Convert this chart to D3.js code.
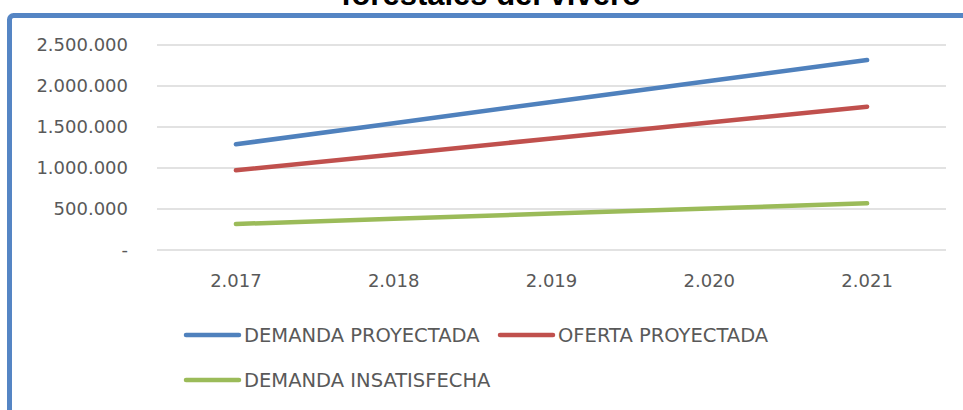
<!DOCTYPE html>
<html>
<head>
<meta charset="utf-8">
<script src="https://cdn.jsdelivr.net/npm/d3@7"></script>
<style>
  body { margin: 0; background: #fff; }
  svg { display: block; }
</style>
</head>
<body>
<div id="chart"></div>
<script>
var years = ["2.017", "2.018", "2.019", "2.020", "2.021"];
var demandaProyectada = [1289000, 1547000, 1805000, 2061000, 2317000];
var ofertaProyectada = [972000, 1166000, 1360000, 1554000, 1748000];
var demandaInsatisfecha = [317000, 381000, 445000, 507000, 569000];
var yTicks = [0, 500000, 1000000, 1500000, 2000000, 2500000];

var series = [
  { name: "DEMANDA PROYECTADA", values: demandaProyectada, color: "#4f81bd" },
  { name: "OFERTA PROYECTADA", values: ofertaProyectada, color: "#c0504d" },
  { name: "DEMANDA INSATISFECHA", values: demandaInsatisfecha, color: "#9bbb59" },
];

var width = 963,
  height = 410;
var plot = { left: 157, right: 946, top: 45, bottom: 250 };

var svg = d3
  .select("#chart")
  .append("svg")
  .attr("width", width)
  .attr("height", height);

// chart area border (only top and left edges fall inside the picture)
svg
  .append("rect")
  .attr("x", 9.5)
  .attr("y", 15.5)
  .attr("width", 1000)
  .attr("height", 500)
  .attr("rx", 4)
  .style("fill", "none")
  .style("stroke", "#5585c4")
  .style("stroke-width", 5);

// title, only the lower part of its second line is visible
svg
  .append("text")
  .attr("x", 491)
  .attr("y", 5)
  .attr("text-anchor", "middle")
  .style("font-family", "Liberation Sans, Arial, sans-serif")
  .style("font-weight", "bold")
  .style("font-size", "31px")
  .style("fill", "#000")
  .text("forestales del vivero");

var x = d3.scaleBand().domain(years).range([plot.left, plot.right]);
var y = d3.scaleLinear().domain([0, 2500000]).range([plot.bottom, plot.top]);

var locale = d3.formatLocale({
  decimal: ",",
  thousands: ".",
  grouping: [3],
  currency: ["", ""],
});
var fmt = locale.format(",d");
var tickFormat = (d) => (d === 0 ? "-" : fmt(d));

// gridlines
svg
  .append("g")
  .selectAll("line")
  .data(yTicks)
  .enter()
  .append("line")
  .attr("x1", plot.left)
  .attr("x2", plot.right)
  .attr("y1", (d) => y(d))
  .attr("y2", (d) => y(d))
  .style("stroke", "#d9d9d9")
  .style("stroke-width", 1.5);

// y axis labels
svg
  .append("g")
  .selectAll("text")
  .data(yTicks)
  .enter()
  .append("text")
  .attr("x", 128)
  .attr("y", (d) => y(d))
  .attr("dy", "0.36em")
  .attr("text-anchor", "end")
  .style("font-family", "DejaVu Sans, sans-serif")
  .style("font-size", "18px")
  .style("fill", "#595959")
  .text(tickFormat);

// x axis labels
svg
  .append("g")
  .selectAll("text")
  .data(years)
  .enter()
  .append("text")
  .attr("x", (d) => x(d) + x.bandwidth() / 2)
  .attr("y", 281)
  .attr("dy", "0.36em")
  .attr("text-anchor", "middle")
  .style("font-family", "DejaVu Sans, sans-serif")
  .style("font-size", "18px")
  .style("fill", "#595959")
  .text((d) => d);

var line = d3
  .line()
  .x((d, i) => x(years[i]) + x.bandwidth() / 2)
  .y((d) => y(d));

svg
  .append("g")
  .selectAll("path")
  .data(series)
  .enter()
  .append("path")
  .attr("d", (s) => line(s.values))
  .style("fill", "none")
  .style("stroke", (s) => s.color)
  .style("stroke-width", 4.5)
  .style("stroke-linecap", "round")
  .style("stroke-linejoin", "round");

// legend
var legendPos = [
  { x: 184, y: 335 },
  { x: 498, y: 335 },
  { x: 184, y: 380 },
];
var legend = svg
  .append("g")
  .selectAll("g")
  .data(series)
  .enter()
  .append("g")
  .attr("transform", (d, i) => "translate(" + legendPos[i].x + "," + legendPos[i].y + ")");
legend
  .append("line")
  .attr("x1", 2)
  .attr("x2", 55)
  .style("stroke", (d) => d.color)
  .style("stroke-width", 4.5)
  .style("stroke-linecap", "round");
legend
  .append("text")
  .attr("x", 60)
  .attr("dy", "0.36em")
  .style("font-family", "DejaVu Sans, sans-serif")
  .style("font-size", "19.5px")
  .style("fill", "#595959")
  .text((d) => d.name);
</script>
</body>
</html>
